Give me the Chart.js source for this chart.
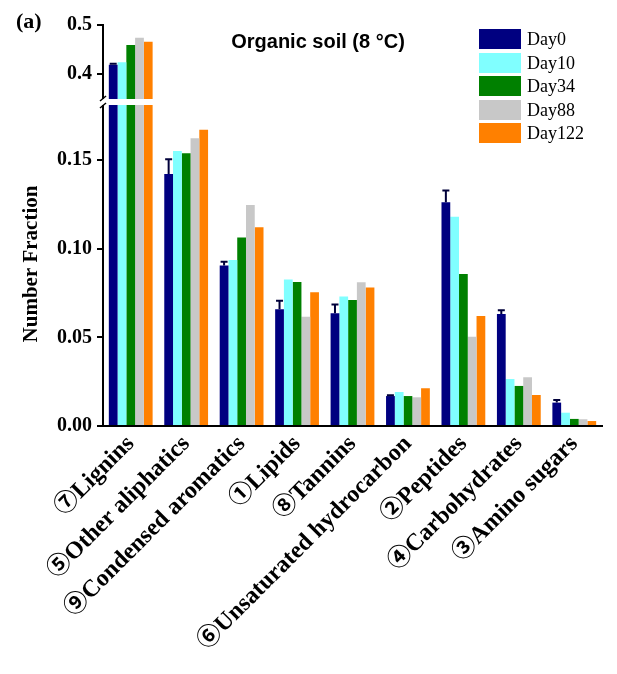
<!DOCTYPE html>
<html><head><meta charset="utf-8">
<script src="https://cdn.jsdelivr.net/npm/chart.js@4.4.0/dist/chart.umd.min.js"></script>
<style>
html,body{margin:0;padding:0;background:#fff;}
#wrap{position:relative;width:617px;height:674px;overflow:hidden;}
#c{position:absolute;left:0;top:0;}
.lbl{position:absolute;white-space:nowrap;color:#000;}
#panel{left:16px;top:8px;font:bold 22px "Liberation Serif",serif;}
#title{left:318px;top:30px;transform:translateX(-50%);font:bold 20px "Liberation Sans",Arial,sans-serif;}
#legend{left:479px;top:29px;}
.item{display:flex;align-items:center;height:20px;margin-bottom:3.5px;font:18px "Liberation Serif",serif;line-height:20px;}
.sw{width:42px;height:20px;margin-right:6px;}
</style></head>
<body><div id="wrap"><canvas id="c" width="617" height="674"></canvas>
<div id="panel" class="lbl">(a)</div>
<div id="title" class="lbl">Organic soil (8 °C)</div>
<div id="legend" class="lbl"></div></div>
<script>
// ---- data ----
const categories = ['⑦Lignins','⑤Other aliphatics','⑨Condensed aromatics','①Lipids','⑧Tannins','⑥Unsaturated hydrocarbon','②Peptides','④Carbohydrates','③Amino sugars'];
const seriesNames = ['Day0','Day10','Day34','Day88','Day122'];
const day0   = [0.419, 0.1422, 0.0905, 0.0658, 0.0636, 0.0169, 0.1262, 0.0632, 0.0132];
const day10  = [0.424, 0.1552, 0.0937, 0.0826, 0.0730, 0.0192, 0.1181, 0.0265, 0.0075];
const day34  = [0.459, 0.1539, 0.1063, 0.0813, 0.0711, 0.0169, 0.0858, 0.0226, 0.0040];
const day88  = [0.474, 0.1624, 0.1247, 0.0617, 0.0811, 0.0162, 0.0504, 0.0275, 0.0038];
const day122 = [0.466, 0.1671, 0.1121, 0.0754, 0.0781, 0.0213, 0.0621, 0.0175, 0.0028];
const day0Err = [0.002, 0.0083, 0.0022, 0.0049, 0.0049, 0.0005, 0.0066, 0.0021, 0.0015];
const lowerTicks = [0, 0.05, 0.10, 0.15];
const upperTicks = [0.4, 0.5];
const lowerRange = [0, 0.1828];
const upperRange = [0.3429, 0.5];

// ---- styles ----
const colors = ['#000080','#80FFFF','#008000','#C8C8C8','#FF8000'];
const series = [day0, day10, day34, day88, day122];

// legend (HTML)
const lg = document.getElementById('legend');
seriesNames.forEach((n,i)=>{
  const d = document.createElement('div'); d.className='item';
  const s = document.createElement('div'); s.className='sw'; s.style.background=colors[i];
  d.appendChild(s); d.appendChild(document.createTextNode(n)); lg.appendChild(d);
});

const datasets = [];
series.forEach((vals,i)=>{
  datasets.push({label: seriesNames[i], data: vals.map(v=>Math.min(v, lowerRange[1])),
    backgroundColor: colors[i], yAxisID:'y', stack:'s'+i, categoryPercentage:0.79, barPercentage:1});
});
series.forEach((vals,i)=>{
  datasets.push({label: seriesNames[i]+' ', data: vals.map(v=> v>upperRange[0] ? v : null),
    backgroundColor: colors[i], yAxisID:'yTop', stack:'s'+i, categoryPercentage:0.79, barPercentage:1});
});

const tickFont = {family:'Liberation Serif', weight:'bold', size:20};

const errorBars = { id:'errorBars', afterDatasetsDraw(chart){
  const ctx = chart.ctx;
  day0.forEach((v,i)=>{
    const e = day0Err[i]; if(!e) return;
    const upper = v > lowerRange[1];
    const scale = upper ? chart.scales.yTop : chart.scales.y;
    const el = chart.getDatasetMeta(upper ? 5 : 0).data[i];
    const yv = scale.getPixelForValue(v), ye = scale.getPixelForValue(v+e);
    ctx.save(); ctx.strokeStyle='#00003a'; ctx.lineWidth=2;
    ctx.beginPath(); ctx.moveTo(el.x, yv); ctx.lineTo(el.x, ye);
    ctx.moveTo(el.x-3.5, ye); ctx.lineTo(el.x+3.5, ye); ctx.stroke(); ctx.restore();
  });
}};

const axisBreak = { id:'axisBreak', afterDraw(chart){
  const ctx = chart.ctx; const y = chart.scales.y.top; const a = chart.chartArea;
  ctx.save(); ctx.fillStyle='#fff';
  ctx.fillRect(a.left-5, y-3, a.right-a.left+8, 6);
  ctx.strokeStyle='#000'; ctx.lineWidth=1.5;
  [y-3.5, y+3.5].forEach(yy=>{ ctx.beginPath(); ctx.moveTo(a.left-3, yy+2.5); ctx.lineTo(a.left+3, yy-2.5); ctx.stroke(); });
  ctx.restore();
}};

const yCommon = {
  position:'left', stack:'v',
  border:{color:'#000', width:2},
  grid:{drawOnChartArea:false, drawTicks:true, tickLength:6, color:'#000', lineWidth:2},
};

new Chart(document.getElementById('c'), {
  type:'bar',
  data:{ labels: categories, datasets },
  options:{
    responsive:false, animation:false, devicePixelRatio:1,
    layout:{padding:{top:25, right:15, left:0, bottom:0}},
    plugins:{ legend:{display:false}, tooltip:{enabled:false}, title:{display:false} },
    scales:{
      x:{ grid:{display:true, drawOnChartArea:false, drawTicks:false}, border:{color:'#000', width:2},
          ticks:{font:{family:"'Liberation Serif', 'Noto Sans CJK JP', serif", weight:'bold', size:24}, color:'#000', maxRotation:45, minRotation:45, autoSkip:false, padding:4},
          afterFit: s=>{ s.height = 248; } },
      y:{ ...yCommon, stackWeight:324, min:lowerRange[0], max:lowerRange[1],
          ticks:{font:tickFont, color:'#000', padding:5, callback:v=>Number(v).toFixed(2)},
          afterBuildTicks: s=>{ s.ticks = lowerTicks.map(v=>({value:v})); },
          title:{display:true, text:'Number Fraction', font:{family:'Liberation Serif', weight:'bold', size:21}, color:'#000', padding:{top:19,bottom:0}},
          afterFit: s=>{ s.width = 103; } },
      yTop:{ ...yCommon, stackWeight:77, min:upperRange[0], max:upperRange[1],
          ticks:{font:tickFont, color:'#000', padding:5, callback:v=>Number(v).toFixed(1)},
          afterBuildTicks: s=>{ s.ticks = upperTicks.map(v=>({value:v})); },
          afterFit: s=>{ s.width = 103; } }
    }
  },
  plugins:[errorBars, axisBreak]
});
</script>
</body></html>
